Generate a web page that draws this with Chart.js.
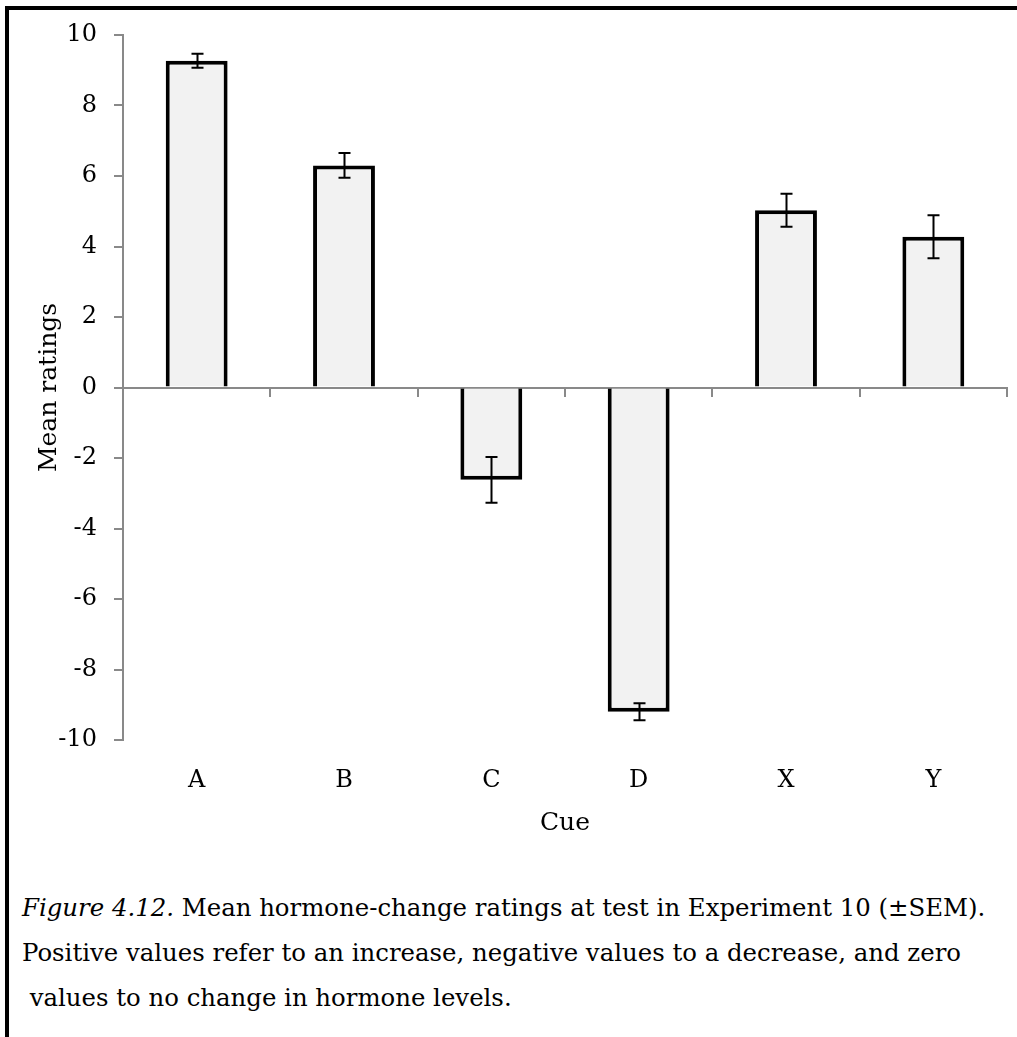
<!DOCTYPE html>
<html>
<head>
<meta charset="utf-8">
<script src="https://cdn.jsdelivr.net/npm/chart.js@4"></script>
<style>
  body { margin: 0; background: #fff; width: 1017px; height: 1037px; overflow: hidden; position: relative; }
  #frame { position: absolute; left: 5px; top: 6px; right: -10px; bottom: -10px; border-top: 4px solid #000; border-left: 4px solid #000; }
  #wrap { position: absolute; left: 0; top: 0; width: 1017px; height: 850px; }
  .cap { position: absolute; font-family: "DejaVu Serif", serif; font-size: 24.4px; color: #000; white-space: nowrap; }
</style>
</head>
<body>
<div id="frame"></div>
<div id="wrap"><canvas id="cueChart"></canvas></div>
<div class="cap" style="left:22px; top:893px;"><i>Figure 4.12.</i> Mean hormone-change ratings at test in Experiment 10 (±SEM).</div>
<div class="cap" style="left:22px; top:938px;">Positive values refer to an increase, negative values to a decrease, and zero</div>
<div class="cap" style="left:22px; top:983px;">&nbsp;values to no change in hormone levels.</div>
<script>
const cues = ["A", "B", "C", "D", "X", "Y"];
const meanRatings = [9.27, 6.3, -2.62, -9.2, 5.03, 4.28];
const semRatings = [0.2, 0.35, 0.65, 0.24, 0.47, 0.61];
const yTicks = [-10, -8, -6, -4, -2, 0, 2, 4, 6, 8, 10];

const axisGrey = "#898989";
const serif = "'DejaVu Serif', serif";

// draws the ±SEM whiskers on top of the bars
const errorBars = {
	id: "errorBars",
	afterDatasetsDraw(chart) {
		const ctx = chart.ctx;
		const yScale = chart.scales.y;
		const meta = chart.getDatasetMeta(0);
		ctx.save();
		ctx.strokeStyle = "#000";
		ctx.lineWidth = 2;
		meta.data.forEach(function (bar, i) {
			const top = yScale.getPixelForValue(meanRatings[i] + semRatings[i]);
			const bottom = yScale.getPixelForValue(meanRatings[i] - semRatings[i]);
			const x = Math.round(bar.x) + 0.5;
			ctx.beginPath();
			ctx.moveTo(x, top);
			ctx.lineTo(x, bottom);
			ctx.moveTo(x - 6, top);
			ctx.lineTo(x + 6, top);
			ctx.moveTo(x - 6, bottom);
			ctx.lineTo(x + 6, bottom);
			ctx.stroke();
		});
		ctx.restore();
	},
};

const cueChart = new Chart(document.getElementById("cueChart").getContext("2d"), {
	type: "bar",
	data: {
		labels: cues,
		datasets: [
			{
				label: "Mean ratings",
				data: meanRatings,
				backgroundColor: "#f2f2f2",
				borderColor: "#000",
				borderWidth: 4,
				barPercentage: 0.42,
				categoryPercentage: 1,
			},
		],
	},
	options: {
		responsive: true,
		maintainAspectRatio: false,
		animation: false,
		layout: { padding: { left: 0, top: 35, right: 10, bottom: 0 } },
		plugins: {
			legend: { display: false },
			tooltip: { enabled: false },
		},
		scales: {
			y: {
				min: -10,
				max: 10,
				afterFit(scale) {
					scale.width = 123;
				},
				afterBuildTicks(scale) {
					scale.ticks = yTicks.map((v) => ({ value: v }));
				},
				ticks: {
					color: "#000",
					padding: 17,
					font: { family: serif, size: 24 },
				},
				grid: {
					drawOnChartArea: false,
					color: axisGrey,
					lineWidth: 2,
					tickLength: 9,
				},
				border: { color: axisGrey, width: 2 },
				title: {
					display: true,
					text: "Mean ratings",
					color: "#000",
					font: { family: serif, size: 25 },
					padding: { top: 34, bottom: 0 },
				},
			},
			x: {
				afterFit(scale) {
					scale.height = 110;
				},
				grid: { display: false },
				border: { display: false },
				ticks: {
					color: "#000",
					padding: 18,
					font: { family: serif, size: 24 },
				},
				title: {
					display: true,
					text: "Cue",
					color: "#000",
					font: { family: serif, size: 25 },
					padding: { top: 0, bottom: 12 },
				},
			},
			x0: {
				type: "category",
				position: { y: 0 },
				offset: true,
				ticks: { display: false },
				grid: {
					offset: true,
					drawOnChartArea: false,
					color: axisGrey,
					lineWidth: 2,
					tickLength: 8,
				},
				border: { color: axisGrey, width: 2 },
			},
		},
	},
	plugins: [errorBars],
});
</script>
</body>
</html>
